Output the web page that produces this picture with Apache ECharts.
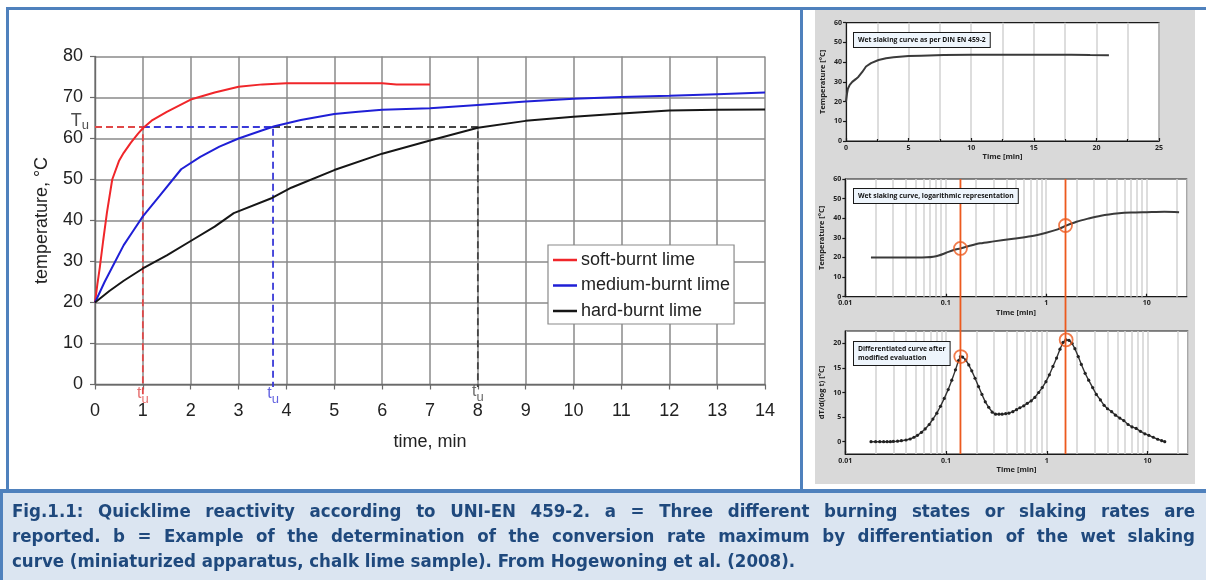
<!DOCTYPE html>
<html>
<head>
<meta charset="utf-8">
<script src="https://cdn.jsdelivr.net/npm/echarts@6/dist/echarts.min.js"></script>
<style>
  html, body { margin: 0; padding: 0; background: #fff; }
  #wrap { position: relative; width: 1206px; height: 580px; overflow: hidden; }
  #chart { position: absolute; left: 0; top: 0; width: 1206px; height: 580px; }
  #caption {
    position: absolute; left: 12px; top: 498px; width: 1183px;
    font-family: "Liberation Sans Narrow", "DejaVu Sans Condensed", "Open Sans", sans-serif;
    font-weight: bold; font-size: 18.5px; line-height: 25px; color: #1f497d;
  }
  #caption .j { text-align: justify; text-align-last: justify; }
  #caption .l { text-align: left; }
</style>
</head>
<body>
<div id="wrap">
  <div id="chart"></div>
  <div id="caption">
    <div class="j">Fig.1.1: Quicklime reactivity according to UNI-EN 459-2. a = Three different burning states or slaking rates are</div>
    <div class="j">reported. b = Example of the determination of the conversion rate maximum by differentiation of the wet slaking</div>
    <div class="l">curve (miniaturized apparatus, chalk lime sample). From Hogewoning et al. (2008).</div>
  </div>
</div>
<script>
// ---- (a) slaking curves for three burning grades: time [min], temperature [°C]
const softTime = [0, 0.05, 0.1, 0.17, 0.25, 0.36, 0.5, 0.6, 0.75, 0.9, 1.0, 1.2, 1.5, 2.0, 2.5, 3.0, 3.5, 4.0, 5.0, 6.0, 6.3, 7.0];
const softTemp = [20, 24.5, 28.5, 35, 42, 50, 54.5, 56.5, 59, 61.2, 62.5, 64.5, 66.5, 69.5, 71.2, 72.6, 73.2, 73.5, 73.5, 73.5, 73.2, 73.2];

const mediumTime = [0, 0.2, 0.4, 0.6, 0.8, 1.0, 1.35, 1.8, 2.2, 2.6, 3.0, 3.5, 3.75, 4.3, 5.0, 5.5, 6.0, 7.0, 8.0, 9.0, 10.0, 11.0, 12.0, 13.0, 14.0];
const mediumTemp = [20, 25, 29.5, 34, 37.5, 41, 46, 52.5, 55.5, 58, 60, 62, 63, 64.5, 66, 66.5, 67, 67.4, 68.2, 69, 69.7, 70.1, 70.4, 70.8, 71.2];

const hardTime = [0, 0.3, 0.6, 1.0, 1.5, 2.0, 2.5, 2.9, 3.7, 4.1, 5.0, 6.0, 7.0, 8.0, 9.0, 10.0, 11.0, 12.0, 13.0, 14.0];
const hardTemp = [20, 22.8, 25.3, 28.3, 31.5, 35, 38.5, 41.8, 45.5, 48, 52.3, 56.3, 59.5, 62.6, 64.3, 65.3, 66.1, 66.8, 67.0, 67.1];

const seriesNames = ['soft-burnt lime', 'medium-burnt lime', 'hard-burnt lime'];
const seriesColors = ['#f0262a', '#1f1fd6', '#161616'];
const dashColors = ['#e04848', '#3a3ad8', '#444444'];

// characteristic temperature Tu and the times at which each curve reaches it
const tuTemp = 62.8;
const tuTimes = [1.0, 3.72, 8.0];
const tuDrop = [-2.9, -0.6, -0.6];      // lower end of each dashed drop line
const tuLabelTemp = [-2.6, -2.6, -2.2];

const xTicksMain = { min: 0, max: 14, interval: 1 };
const yTicksMain = { min: 0, max: 80, interval: 10 };

// ---- (b) wet slaking curve, linear time
const linTime = [0, 0.03, 0.08, 0.15, 0.3, 0.5, 0.8, 1.0, 1.3, 1.6, 2.0, 2.6, 3.2, 3.8, 5.0, 6.0, 7.8, 10.0, 12.0, 15.0, 18.0, 19.5, 21.0];
const linTemp = [20, 20.5, 24, 26.5, 28.5, 30, 31.5, 32.6, 35, 37.8, 39.5, 41.1, 42, 42.5, 43.1, 43.3, 43.6, 43.8, 43.8, 43.8, 43.8, 43.6, 43.5];

// ---- (b) wet slaking curve, logarithmic time
const logTime = [0.018, 0.025, 0.035, 0.05, 0.065, 0.075, 0.085, 0.1, 0.12, 0.14, 0.17, 0.22, 0.3, 0.47, 0.7, 1.0, 1.3, 1.58, 2.0, 2.6, 3.5, 5.3, 7.0, 10.0, 15.0, 21.0];
const logTemp = [20, 20, 20, 20, 20.1, 20.4, 21, 22.3, 23.8, 24.6, 25.8, 27.2, 28.2, 29.6, 30.8, 32.6, 34.3, 36.2, 38.2, 39.8, 41.3, 42.5, 42.9, 43.1, 43.3, 43.1];

// ---- (b) differentiated curve dT/d(log t)
const diffTime = [0.018, 0.020, 0.022, 0.024, 0.026, 0.028, 0.030, 0.033, 0.036, 0.040, 0.044, 0.048, 0.052, 0.057, 0.062, 0.068,
  0.074, 0.081, 0.088, 0.096, 0.105, 0.114, 0.124, 0.133, 0.139, 0.146, 0.157, 0.168, 0.180, 0.194, 0.210, 0.227, 0.245,
  0.265, 0.287, 0.310, 0.335, 0.360, 0.390, 0.420, 0.460, 0.500, 0.540, 0.590, 0.640, 0.700, 0.760, 0.830, 0.900, 0.980,
  1.06, 1.15, 1.25, 1.35, 1.45, 1.55, 1.66, 1.78, 1.90, 2.05, 2.20, 2.40, 2.60, 2.85, 3.10, 3.40, 3.70, 4.00, 4.40, 4.80,
  5.30, 5.80, 6.40, 7.00, 7.70, 8.50, 9.40, 10.3, 11.4, 12.6, 13.8, 14.8];
const diffRate = [0, 0, 0, 0, 0, 0, 0.05, 0.1, 0.2, 0.35, 0.55, 0.9, 1.3, 1.9, 2.6, 3.5,
  4.6, 5.8, 7.2, 8.8, 10.6, 12.5, 14.6, 16.5, 17.3, 17.2, 16.6, 15.6, 14.4, 12.9, 11.2, 9.6, 8.1,
  7.0, 6.0, 5.6, 5.6, 5.6, 5.7, 5.8, 6.1, 6.5, 6.9, 7.3, 7.8, 8.3, 9.0, 10.0, 11.0, 12.2,
  13.6, 15.3, 17.0, 18.8, 20.2, 20.7, 20.6, 20.0, 18.9, 17.3, 15.7, 13.9, 12.5, 11.0, 9.6, 8.5, 7.4, 6.7, 6.1, 5.4,
  4.8, 4.3, 3.5, 3.0, 2.7, 2.1, 1.6, 1.3, 0.9, 0.5, 0.2, 0];

// conversion-rate maxima
const peakTime = [0.14, 1.555];
const peakTemp = [24.6, 36.3];
const peakRate = [17.3, 20.7];

// minor gridlines of the logarithmic time axes
const logGrid = [0.02, 0.03, 0.04, 0.05, 0.06, 0.07, 0.08, 0.09, 0.2, 0.3, 0.4, 0.5, 0.6, 0.7, 0.8, 0.9,
  2, 3, 4, 5, 6, 7, 8, 9, 20];
const rateTicks = [0, 5, 10, 15, 20];

const pairs = (xs, ys) => xs.map((x, i) => [x, ys[i]]);

// ---- styles
const FRAME = '#4f81bd';
const PANEL = '#d9d9d9';
const ORANGE = '#ec5a1e';
const SMALL_FONT = 'Open Sans';
const smallLabel = { fontFamily: SMALL_FONT, fontWeight: 'bold', fontSize: 7, color: '#222' };
const smallName = { fontFamily: SMALL_FONT, fontWeight: 'bold', fontSize: 7.5, color: '#222' };
const lightGrid = { color: '#d2d2d2', width: 1.5 };
const blackLine = { color: '#1a1a1a', width: 1.2 };
const logLabelFmt = v => (v >= 1 ? String(Math.round(v)) : String(+v.toPrecision(1)));

const chart = echarts.init(document.getElementById('chart'), null, { renderer: 'canvas' });

const mainAxisLabel = { fontFamily: 'Liberation Sans', fontSize: 18, color: '#222' };
const mainSplit = { lineStyle: { color: '#8a8a8a', width: 1.5 } };

const smallGrid = { show: true, backgroundColor: '#fff', borderColor: '#1a1a1a', borderWidth: 1.2, outerBoundsMode: 'none' };

const option = {
  animation: false,
  backgroundColor: '#fff',
  grid: [
    { left: 95, top: 56.5, width: 670, height: 328, outerBoundsMode: 'none' },
    Object.assign({ left: 846, top: 22.7, width: 313, height: 118.3 }, smallGrid),
    Object.assign({ left: 845.3, top: 179, width: 341.4, height: 117.7 }, smallGrid),
    Object.assign({ left: 845.3, top: 331, width: 342.4, height: 123 }, smallGrid)
  ],
  legend: {
    data: seriesNames,
    orient: 'vertical', left: 548, top: 245,
    backgroundColor: '#fff', borderColor: '#8a8a8a', borderWidth: 1.2, borderRadius: 0,
    padding: [6, 4, 4, 5], itemGap: 7.5, itemWidth: 24, itemHeight: 2.5, icon: 'rect',
    textStyle: { fontFamily: 'Liberation Sans', fontSize: 18, color: '#222', padding: [0, 0, 0, -1] }
  },
  xAxis: [
    {
      gridIndex: 0, type: 'value', ...xTicksMain,
      name: 'time, min', nameLocation: 'middle', nameGap: 49,
      nameTextStyle: { fontFamily: 'Liberation Sans', fontSize: 18, color: '#222' },
      axisLine: { lineStyle: { color: '#6a6a6a', width: 1.4 } },
      axisTick: { show: true, length: 5, lineStyle: { color: '#6a6a6a', width: 1.2 } },
      axisLabel: { ...mainAxisLabel, margin: 18 },
      splitLine: mainSplit
    },
    {
      gridIndex: 1, type: 'value', min: 0, max: 25, interval: 5,
      name: 'Time [min]', nameLocation: 'middle', nameGap: 12, nameTextStyle: smallName,
      axisLine: { onZero: false, lineStyle: blackLine },
      axisTick: { inside: true, length: 3, lineStyle: blackLine },
      minorTick: { show: true, splitNumber: 2, length: 2, lineStyle: blackLine },
      axisLabel: { ...smallLabel, margin: 3 },
      splitLine: { show: true, lineStyle: lightGrid },
      minorSplitLine: { show: true, lineStyle: lightGrid }
    },
    {
      gridIndex: 2, type: 'log', logBase: 10, min: 0.01, max: 25,
      name: 'Time [min]', nameLocation: 'middle', nameGap: 12, nameTextStyle: smallName,
      axisLine: { onZero: false, lineStyle: blackLine },
      axisTick: { inside: true, length: 3, lineStyle: blackLine },
      axisLabel: { ...smallLabel, margin: 3, showMaxLabel: false, formatter: logLabelFmt },
      splitLine: { show: true, lineStyle: lightGrid }
    },
    {
      gridIndex: 3, type: 'log', logBase: 10, min: 0.01, max: 25,
      name: 'Time [min]', nameLocation: 'middle', nameGap: 12, nameTextStyle: smallName,
      axisLine: { onZero: false, lineStyle: blackLine },
      axisTick: { inside: true, length: 3, lineStyle: blackLine },
      axisLabel: { ...smallLabel, margin: 3, showMaxLabel: false, formatter: logLabelFmt },
      splitLine: { show: true, lineStyle: lightGrid }
    }
  ],
  yAxis: [
    {
      gridIndex: 0, type: 'value', ...yTicksMain,
      name: 'temperature, °C', nameLocation: 'middle', nameGap: 44,
      nameTextStyle: { fontFamily: 'Liberation Sans', fontSize: 18, color: '#222' },
      axisLine: { show: true, lineStyle: { color: '#6a6a6a', width: 1.4 } },
      axisTick: { show: true, length: 5, lineStyle: { color: '#6a6a6a', width: 1.2 } },
      axisLabel: { ...mainAxisLabel, margin: 12 },
      splitLine: mainSplit
    },
    {
      gridIndex: 1, type: 'value', min: 0, max: 60, interval: 10,
      name: 'Temperature [°C]', nameLocation: 'middle', nameGap: 19, nameTextStyle: smallName,
      axisLine: { show: true, onZero: false, lineStyle: blackLine },
      axisTick: { show: true, length: 3, lineStyle: blackLine },
      axisLabel: { ...smallLabel, margin: 4 },
      splitLine: { show: false }
    },
    {
      gridIndex: 2, type: 'value', min: 0, max: 60, interval: 10,
      name: 'Temperature [°C]', nameLocation: 'middle', nameGap: 19, nameTextStyle: smallName,
      axisLine: { show: true, onZero: false, lineStyle: blackLine },
      axisTick: { show: true, length: 3, lineStyle: blackLine },
      axisLabel: { ...smallLabel, margin: 4 },
      splitLine: { show: false }
    },
    {
      gridIndex: 3, type: 'value', min: -2.5, max: 22.5,
      name: 'dT/d(log t) [°C]', nameLocation: 'middle', nameGap: 19, nameTextStyle: smallName,
      axisLine: { show: true, onZero: false, lineStyle: blackLine },
      axisTick: { show: true, length: 3, lineStyle: blackLine, customValues: rateTicks },
      axisLabel: { ...smallLabel, margin: 4, customValues: rateTicks },
      splitLine: { show: false }
    }
  ],
  series: [],
  graphic: []
};

// (a) main curves
const mainData = [pairs(softTime, softTemp), pairs(mediumTime, mediumTemp), pairs(hardTime, hardTemp)];
mainData.forEach((d, i) => {
  option.series.push({
    name: seriesNames[i], type: 'line', xAxisIndex: 0, yAxisIndex: 0,
    data: d, showSymbol: false, symbol: 'none', z: 4,
    lineStyle: { color: seriesColors[i], width: 2 }, itemStyle: { color: seriesColors[i] }
  });
});

// (a) dashed construction lines to Tu and down to tu
const tuStart = [0, tuTimes[0], tuTimes[1]];
tuTimes.forEach((t, i) => {
  option.series.push({
    type: 'line', xAxisIndex: 0, yAxisIndex: 0, clip: false, z: 3,
    data: [[tuStart[i], tuTemp], [t, tuTemp], [t, tuDrop[i]]],
    showSymbol: false, symbol: 'none', silent: true,
    lineStyle: { color: dashColors[i], width: 1.8, type: [7, 4] }
  });
});

// (a) tu labels under each drop line, Tu label at the axis
option.series.push({
  type: 'scatter', xAxisIndex: 0, yAxisIndex: 0, clip: false, symbolSize: 0, silent: true, z: 6,
  data: tuTimes.map((t, i) => ({
    value: [t, tuLabelTemp[i]],
    label: { color: dashColors[i] }
  })).concat([{ value: [0, tuTemp], label: { position: 'left', distance: 6, offset: [0, -6], color: '#222' } }]),
  label: {
    show: true, position: 'inside', fontFamily: 'Liberation Sans',
    formatter: p => (p.dataIndex === tuTimes.length ? '{T|T}{u|u}' : '{t|t}{u|u}'),
    rich: {
      T: { fontFamily: 'Liberation Sans', fontSize: 18 },
      t: { fontFamily: 'Liberation Sans', fontSize: 16, padding: [0, 0, 4, 0] },
      u: { fontFamily: 'Liberation Sans', fontSize: 13, padding: [8, 0, 0, 0] }
    }
  }
});

// (b) linear-time slaking curve
option.series.push({
  type: 'line', xAxisIndex: 1, yAxisIndex: 1, data: pairs(linTime, linTemp),
  showSymbol: false, symbol: 'none', lineStyle: { color: '#3a3a3a', width: 2 }
});

// (b) logarithmic slaking curve with minor gridlines
const gridMarks = {
  silent: true, symbol: 'none', label: { show: false },
  lineStyle: { color: '#d2d2d2', width: 1.5, type: 'solid' },
  data: logGrid.map(v => ({ xAxis: v })), z: 1
};
option.series.push({
  type: 'line', xAxisIndex: 2, yAxisIndex: 2, data: pairs(logTime, logTemp),
  showSymbol: false, symbol: 'none', smooth: 0.3, z: 3,
  lineStyle: { color: '#3a3a3a', width: 2 },
  markLine: gridMarks
});
option.series.push({
  type: 'scatter', xAxisIndex: 2, yAxisIndex: 2, data: pairs(peakTime, peakTemp),
  symbol: 'circle', symbolSize: 13, z: 8, silent: true,
  itemStyle: { color: 'rgba(0,0,0,0)', borderColor: ORANGE, borderWidth: 1.8 }
});

// (b) differentiated curve
option.series.push({
  type: 'line', xAxisIndex: 3, yAxisIndex: 3, data: pairs(diffTime, diffRate),
  showSymbol: true, symbol: 'circle', symbolSize: 3.2, z: 3,
  itemStyle: { color: '#222' },
  lineStyle: { color: '#333', width: 1.4 },
  markLine: gridMarks
});
option.series.push({
  type: 'scatter', xAxisIndex: 3, yAxisIndex: 3, data: pairs(peakTime, peakRate),
  symbol: 'circle', symbolSize: 13, z: 8, silent: true,
  itemStyle: { color: 'rgba(0,0,0,0)', borderColor: ORANGE, borderWidth: 1.8 }
});

// frame, panel and annotation boxes
const boxStyle = (x, y, text) => ({
  type: 'text', x, y, z: 20,
  style: {
    text, fill: '#111', font: 'bold 6.8px "Open Sans"', lineHeight: 9,
    backgroundColor: '#eef5fc', borderColor: '#1a1a1a', borderWidth: 1, padding: [3, 4, 2, 4]
  }
});
option.graphic = [
  { id: 'panel', type: 'rect', z: -10, shape: { x: 815, y: 10, width: 380, height: 474 }, style: { fill: PANEL } },
  { id: 'top', type: 'rect', z: 30, shape: { x: 6, y: 7, width: 1200, height: 3 }, style: { fill: FRAME } },
  { id: 'left', type: 'rect', z: 30, shape: { x: 6, y: 7, width: 3, height: 483 }, style: { fill: FRAME } },
  { id: 'divider', type: 'rect', z: 30, shape: { x: 800, y: 7, width: 3, height: 483 }, style: { fill: FRAME } },
  { id: 'sep', type: 'rect', z: 30, shape: { x: 0, y: 489, width: 1206, height: 4 }, style: { fill: FRAME } },
  { id: 'capbg', type: 'rect', z: -10, shape: { x: 0, y: 493, width: 1206, height: 87 }, style: { fill: '#dbe5f1' } },
  { id: 'capleft', type: 'rect', z: 30, shape: { x: 0, y: 489, width: 3, height: 91 }, style: { fill: FRAME } },
  Object.assign({ id: 'box1' }, boxStyle(854, 33, 'Wet slaking curve as per DIN EN 459-2')),
  Object.assign({ id: 'box2' }, boxStyle(854, 189, 'Wet slaking curve, logarithmic representation')),
  Object.assign({ id: 'box3' }, boxStyle(854, 342, 'Differentiated curve after\nmodified evaluation'))
];

chart.setOption(option);

// orange marker lines through both logarithmic panels at the rate maxima
const yTop = chart.convertToPixel({ yAxisIndex: 2 }, 60);
const yBottom = chart.convertToPixel({ yAxisIndex: 3 }, -2.5);
chart.setOption({
  graphic: peakTime.map((t, i) => {
    const x = chart.convertToPixel({ xAxisIndex: 2 }, t);
    return {
      id: 'peak' + i, type: 'line', z: 7, silent: true,
      shape: { x1: x, y1: yTop, x2: x, y2: yBottom },
      style: { stroke: ORANGE, lineWidth: 1.8 }
    };
  })
});
</script>
</body>
</html>
